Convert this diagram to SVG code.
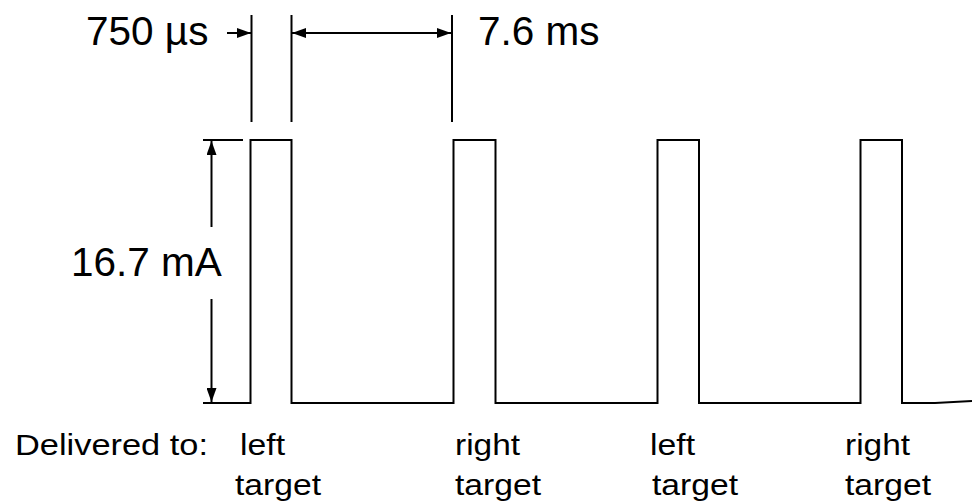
<svg xmlns="http://www.w3.org/2000/svg" width="972" height="503" viewBox="0 0 972 503">
  <defs>
    <marker id="head" viewBox="0 0 14 10" refX="14" refY="5" markerWidth="14" markerHeight="10" markerUnits="userSpaceOnUse" orient="auto-start-reverse">
      <path d="M0,0 L14,5 L0,10 Z" fill="#000"/>
    </marker>
    <style>
      .ln { fill: none; stroke: #000; stroke-width: 2; }
      .dim { fill: none; stroke: #000; stroke-width: 2; }
      .lbl { font-family: "Liberation Sans", Arial, sans-serif; fill: #000; }
      .big { font-size: 40.5px; }
      .sm { font-size: 29px; }
    </style>
  </defs>

  <!-- pulse train -->
  <g id="waveform">
    <path class="ln" d="M203,403 H250.5 V140 H291.5 V403 H453.5 V140 H495.5 V403 H657.5 V140 H699 V403 H860.5 V140 H902 V403 H935 L972,401"/>
  </g>

  <!-- dimension lines -->
  <g id="connectors">
    <!-- extension lines -->
    <line class="dim" x1="251.5" y1="15" x2="251.5" y2="122"/>
    <line class="dim" x1="291.5" y1="15" x2="291.5" y2="122"/>
    <line class="dim" x1="452" y1="15" x2="452" y2="122"/>
    <line class="dim" x1="203" y1="140" x2="243" y2="140"/>
    <!-- pulse width arrow -->
    <line class="dim" x1="227" y1="33" x2="251" y2="33" marker-end="url(#head)"/>
    <!-- period arrow -->
    <line class="dim" x1="292" y1="33" x2="451" y2="33" marker-start="url(#head)" marker-end="url(#head)"/>
    <!-- amplitude arrow -->
    <line class="dim" x1="211.5" y1="227" x2="211.5" y2="141" marker-end="url(#head)"/>
    <line class="dim" x1="211.5" y1="299" x2="211.5" y2="402" marker-end="url(#head)"/>
  </g>

  <g id="label-width">
    <text class="lbl big" x="86" y="45">750 µs</text>
  </g>
  <g id="label-period">
    <text class="lbl big" x="478" y="45">7.6 ms</text>
  </g>
  <g id="label-amplitude">
    <text class="lbl big" x="71" y="276">16.7 mA</text>
  </g>

  <g id="label-delivered">
    <text class="lbl sm" x="15" y="455" textLength="193" lengthAdjust="spacingAndGlyphs">Delivered to:</text>
  </g>
  <g id="target-1">
    <text class="lbl sm" x="240" y="455" textLength="45" lengthAdjust="spacingAndGlyphs">left</text>
    <text class="lbl sm" x="235" y="495" textLength="86" lengthAdjust="spacingAndGlyphs">target</text>
  </g>
  <g id="target-2">
    <text class="lbl sm" x="455" y="455" textLength="65" lengthAdjust="spacingAndGlyphs">right</text>
    <text class="lbl sm" x="455" y="495" textLength="86" lengthAdjust="spacingAndGlyphs">target</text>
  </g>
  <g id="target-3">
    <text class="lbl sm" x="650" y="455" textLength="45" lengthAdjust="spacingAndGlyphs">left</text>
    <text class="lbl sm" x="652" y="495" textLength="86" lengthAdjust="spacingAndGlyphs">target</text>
  </g>
  <g id="target-4">
    <text class="lbl sm" x="845" y="455" textLength="65" lengthAdjust="spacingAndGlyphs">right</text>
    <text class="lbl sm" x="845" y="495" textLength="86" lengthAdjust="spacingAndGlyphs">target</text>
  </g>
</svg>
